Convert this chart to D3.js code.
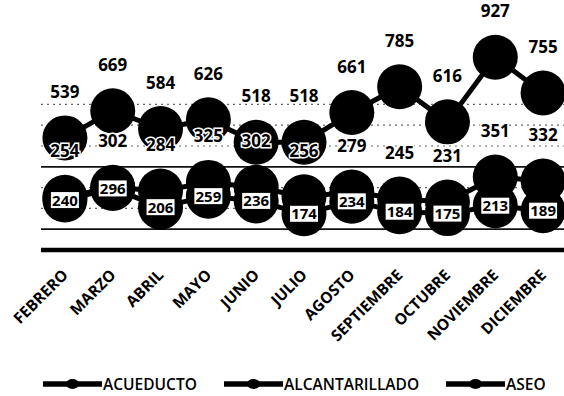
<!DOCTYPE html>
<html><head><meta charset="utf-8">
<script src="https://cdn.jsdelivr.net/npm/d3@7"></script>
<style>
html,body{margin:0;padding:0;background:#fff;}
svg{display:block;}
</style></head>
<body>
<script>
const months = ["FEBRERO","MARZO","ABRIL","MAYO","JUNIO","JULIO","AGOSTO","SEPTIEMBRE","OCTUBRE","NOVIEMBRE","DICIEMBRE"];
const acueducto = [539,669,584,626,518,518,661,785,616,927,755];
const alcantarillado = [254,302,284,325,302,256,279,245,231,351,332];
const aseo = [240,296,206,259,236,174,234,184,175,213,189];
const seriesNames = ["ACUEDUCTO","ALCANTARILLADO","ASEO"];
const gridValues = [100,200,300,400,500,600,700];
const solidGrid = [100,400];

const W = 564, H = 396;
const svg = d3.select("body").append("svg").attr("width", W).attr("height", H);

const x = d3.scaleBand().domain(months).range([41, 567]);
const y = d3.scaleLinear().domain([0, 1000]).range([250, 42]);
const cx = m => x(m) + x.bandwidth()/2;

// gridlines
svg.append("g").selectAll("line").data(gridValues).join("line")
  .attr("x1", 41).attr("x2", 564)
  .attr("y1", d => y(d)).attr("y2", d => y(d))
  .attr("stroke", d => solidGrid.includes(d) ? "#111" : "#666")
  .attr("stroke-width", d => solidGrid.includes(d) ? 1.8 : 1.2)
  .attr("stroke-dasharray", d => solidGrid.includes(d) ? null : "2,4");

// x axis baseline
svg.append("line").attr("x1", 41).attr("x2", 564)
  .attr("y1", y(0)).attr("y2", y(0))
  .attr("stroke", "#000").attr("stroke-width", 4.5);

const data = [acueducto, alcantarillado, aseo];
const line = d3.line().x((d,i) => cx(months[i])).y(d => y(d));

data.forEach(vals => {
  const g = svg.append("g");
  g.append("path").attr("d", line(vals)).attr("fill","none")
    .attr("stroke","#000").attr("stroke-width",5).attr("stroke-linejoin","round");
  g.selectAll("circle").data(vals).join("circle")
    .attr("cx", (d,i) => cx(months[i])).attr("cy", d => y(d)).attr("r", 22.5)
    .attr("fill", "#000");
});

const lblFont = "'Open Sans', 'DejaVu Sans', sans-serif";
// top labels (ACUEDUCTO)
svg.append("g").selectAll("text").data(acueducto).join("text")
  .attr("x", (d,i) => cx(months[i])).attr("y", d => y(d) - 40)
  .attr("text-anchor","middle").attr("font-family", lblFont)
  .attr("font-weight","bold").attr("font-size", 17).attr("fill","#000")
  .text(d => d);

// middle labels (ALCANTARILLADO) with white halo
svg.append("g").selectAll("text").data(alcantarillado).join("text")
  .attr("x", (d,i) => cx(months[i])).attr("y", d => y(d) - 40)
  .attr("text-anchor","middle").attr("font-family", lblFont)
  .attr("font-weight","bold").attr("font-size", 17).attr("fill","#000")
  .attr("stroke","#fff").attr("stroke-width",3).attr("paint-order","stroke")
  .text(d => d);

// bottom labels (ASEO) centered in white boxes
const bl = svg.append("g").selectAll("g").data(aseo).join("g")
  .attr("transform", (d,i) => `translate(${cx(months[i])},${y(d)})`);
bl.append("rect").attr("x",-14).attr("y",-8).attr("width",28).attr("height",16)
  .attr("fill","#fff");
bl.append("text").attr("y", 5.5).attr("text-anchor","middle")
  .attr("font-family", lblFont).attr("font-weight","bold").attr("font-size",15)
  .attr("fill","#000").text(d => d);

// x-axis labels
svg.append("g").selectAll("text").data(months).join("text")
  .attr("transform", m => `translate(${cx(m)+4},276) rotate(-45)`)
  .attr("text-anchor","end").attr("font-family", lblFont)
  .attr("font-weight","bold").attr("font-size", 15.5).attr("fill","#000")
  .text(m => m);

// legend
const legendX = [43, 224, 446];
const lg = svg.append("g").selectAll("g").data(seriesNames).join("g")
  .attr("transform", (d,i) => `translate(${legendX[i]},384)`);
lg.append("line").attr("x1",0).attr("x2",59).attr("y1",0).attr("y2",0)
  .attr("stroke","#000").attr("stroke-width",5.5);
lg.append("ellipse").attr("cx",29.5).attr("cy",0).attr("rx",6.5).attr("ry",5).attr("fill","#000");
lg.append("text").attr("x",60).attr("y",6).attr("font-family", lblFont)
  .attr("font-weight", 600)
  .attr("font-size",15.5).attr("fill","#000").text(d => d);
</script>
</body></html>
